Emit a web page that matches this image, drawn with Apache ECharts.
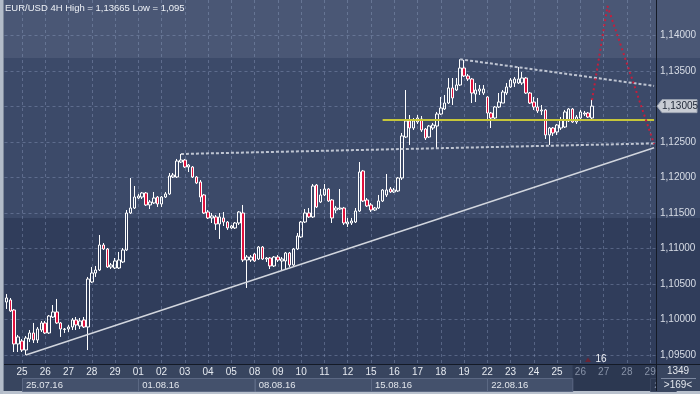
<!DOCTYPE html>
<html>
<head>
<meta charset="utf-8">
<script src="https://cdn.jsdelivr.net/npm/echarts@6.0.0/dist/echarts.min.js"></script>
<style>
html,body{margin:0;padding:0;}
#c{width:700px;height:394px;background:linear-gradient(to bottom,#4a5775 0px,#4a5775 58px,#3c4a69 58px,#3c4a69 218px,#303d5b 218px,#303d5b 364px,#38455f 364px,#38455f 391px,#b9c1cd 391px,#b9c1cd 394px);}
</style>
</head>
<body>
<div id="c"></div>
<script>
// ---------- data ----------
const preDay = '22';
const preDayHours = ['08','12','16','20'];
const hours = ['00','04','08','12','16','20'];
const dayLabels = ['25','26','27','28','29','01','02','03','04','05','08','09','10','11','12','15','16','17','18','19','22','23','24','25','26','27','28','29'];
const weekLabels = ['25.07.16','01.08.16','08.08.16','15.08.16','22.08.16','29.08.16'];
const yTicks = [1.095,1.100,1.105,1.110,1.115,1.120,1.125,1.130,1.135,1.140];
const symbolName = 'EUR/USD 4H';
const highValue = 1.13665;
const lowValue = 1.095;
const lastPrice = 1.13005;
const barCountText = '1349';
const spreadText = '>169<';
const timerText = '16';

// [open, close, low, high]
const ohlc = [
[1.10246,1.10303,1.10148,1.10359],[1.10275,1.10120,1.10106,1.10303],[1.10134,1.09655,1.09542,1.10148],[1.09655,1.09754,1.09542,1.09782],
[1.09697,1.09570,1.09542,1.09725],[1.09570,1.09739,1.09500,1.09768],[1.09725,1.09810,1.09683,1.09852],[1.09810,1.09711,1.09669,1.09951],[1.09711,1.09866,1.09669,1.09894],[1.09852,1.09951,1.09824,1.09979],
[1.09951,1.09810,1.09796,1.09979],[1.09810,1.10049,1.09796,1.10063],[1.10035,1.10106,1.10021,1.10204],[1.10106,1.09951,1.09937,1.10289],[1.09951,1.09866,1.09754,1.09965],[1.09859,1.09866,1.09810,1.09880],
[1.09866,1.09894,1.09824,1.09923],[1.09894,1.09993,1.09852,1.10021],[1.09993,1.09923,1.09852,1.10035],[1.09908,1.09979,1.09866,1.10021],[1.09993,1.09894,1.09880,1.10035],[1.09894,1.10570,1.09570,1.10599],
[1.10528,1.10655,1.10514,1.10739],[1.10655,1.10697,1.10599,1.10754],[1.10697,1.11049,1.10683,1.11190],[1.11049,1.10993,1.10979,1.11077],[1.10993,1.10739,1.10725,1.11007],[1.10739,1.10768,1.10711,1.10796],
[1.10725,1.10824,1.10711,1.10866],[1.10725,1.10838,1.10711,1.10951],[1.10810,1.10979,1.10796,1.11007],[1.10979,1.11500,1.10965,1.11542],[1.11500,1.11570,1.11486,1.11993],[1.11570,1.11725,1.11556,1.11880],
[1.11711,1.11739,1.11697,1.11768],[1.11725,1.11782,1.11697,1.11796],[1.11782,1.11613,1.11599,1.11796],[1.11613,1.11655,1.11556,1.11683],[1.11641,1.11711,1.11627,1.11796],[1.11725,1.11627,1.11585,1.11739],
[1.11627,1.11725,1.11585,1.11739],[1.11725,1.11768,1.11711,1.11796],[1.11768,1.12021,1.11754,1.12063],[1.12007,1.12035,1.11993,1.12063],[1.12007,1.12232,1.11993,1.12261],[1.12218,1.12246,1.12204,1.12331],
[1.12246,1.12148,1.12134,1.12261],[1.12148,1.12176,1.12077,1.12190],[1.12148,1.12007,1.11993,1.12162],[1.12007,1.11923,1.11908,1.12021],[1.11937,1.11725,1.11655,1.11965],[1.11754,1.11500,1.11486,1.11768],
[1.11514,1.11430,1.11415,1.11542],[1.11430,1.11458,1.11359,1.11500],[1.11444,1.11345,1.11261,1.11472],[1.11345,1.11444,1.11134,1.11500],[1.11430,1.11373,1.11317,1.11514],[1.11373,1.11289,1.11261,1.11387],
[1.11289,1.11317,1.11275,1.11331],[1.11289,1.11359,1.11275,1.11373],[1.11359,1.11514,1.11331,1.11528],[1.11500,1.10838,1.10810,1.11613],[1.10838,1.10880,1.10444,1.10908],[1.10838,1.10880,1.10810,1.10908],
[1.10923,1.10824,1.10810,1.10937],[1.10852,1.11021,1.10838,1.11035],[1.11021,1.10852,1.10838,1.11035],[1.10852,1.10866,1.10810,1.10880],[1.10866,1.10754,1.10711,1.10880],[1.10754,1.10880,1.10739,1.10894],
[1.10880,1.10838,1.10810,1.10908],[1.10824,1.10852,1.10683,1.10880],[1.10824,1.10937,1.10711,1.10951],[1.10937,1.10768,1.10739,1.10951],[1.10768,1.10993,1.10754,1.11007],[1.10993,1.11176,1.10979,1.11218],
[1.11162,1.11373,1.11148,1.11387],[1.11373,1.11500,1.11359,1.11556],[1.11500,1.11444,1.11430,1.11570],[1.11444,1.11880,1.11430,1.11908],[1.11894,1.11585,1.11570,1.11908],[1.11655,1.11754,1.11641,1.11838],
[1.11754,1.11838,1.11739,1.11908],[1.11838,1.11669,1.11655,1.11852],[1.11683,1.11430,1.11359,1.11697],[1.11542,1.11570,1.11500,1.11599],[1.11556,1.11570,1.11542,1.11838],[1.11570,1.11359,1.11331,1.11585],
[1.11345,1.11373,1.11303,1.11430],[1.11359,1.11387,1.11331,1.11430],[1.11373,1.11528,1.11359,1.11570],[1.11528,1.12077,1.11514,1.12218],[1.12092,1.11669,1.11655,1.12106],[1.11683,1.11599,1.11585,1.11711],
[1.11613,1.11542,1.11514,1.11641],[1.11542,1.11570,1.11528,1.11585],[1.11570,1.11669,1.11556,1.11754],[1.11669,1.11824,1.11655,1.11838],[1.11754,1.11824,1.11725,1.12049],[1.11838,1.11796,1.11782,1.11866],
[1.11796,1.11824,1.11782,1.11852],[1.11810,1.11993,1.11796,1.12007],[1.11993,1.12585,1.11965,1.12627],[1.12570,1.12796,1.12556,1.13232],[1.12796,1.12697,1.12458,1.12880],[1.12697,1.12796,1.12669,1.12838],
[1.12782,1.12838,1.12754,1.12880],[1.12824,1.12669,1.12641,1.12866],[1.12683,1.12556,1.12528,1.12697],[1.12570,1.12725,1.12556,1.12739],[1.12697,1.12739,1.12669,1.12768],[1.12725,1.12894,1.12415,1.12923],
[1.12894,1.12979,1.12880,1.13134],[1.12965,1.13049,1.12951,1.13162],[1.13049,1.13261,1.13035,1.13401],[1.13261,1.13120,1.13021,1.13401],[1.13232,1.13303,1.13218,1.13401],[1.13303,1.13542,1.13289,1.13665],
[1.13542,1.13430,1.13415,1.13655],[1.13430,1.13387,1.13359,1.13458],[1.13387,1.13190,1.13049,1.13401],[1.13176,1.13232,1.13063,1.13331],[1.13218,1.13246,1.13162,1.13303],[1.13190,1.13246,1.13162,1.13303],
[1.13134,1.12908,1.12810,1.13148],[1.12908,1.12838,1.12697,1.12923],[1.12838,1.12993,1.12824,1.13007],[1.12993,1.13063,1.12979,1.13190],[1.13049,1.13204,1.13049,1.13232],[1.13190,1.13275,1.13162,1.13331],
[1.13275,1.13373,1.13261,1.13401],[1.13331,1.13387,1.13275,1.13415],[1.13331,1.13387,1.13317,1.13556],[1.13331,1.13401,1.13303,1.13486],[1.13401,1.13190,1.13176,1.13415],[1.13190,1.13049,1.13035,1.13204],
[1.13063,1.12993,1.12951,1.13134],[1.12993,1.12937,1.12908,1.13120],[1.12937,1.12951,1.12880,1.13021],[1.12951,1.12599,1.12542,1.12965],[1.12599,1.12697,1.12458,1.12711],[1.12697,1.12627,1.12585,1.12711],
[1.12641,1.12739,1.12599,1.12754],[1.12697,1.12810,1.12669,1.12852],[1.12711,1.12923,1.12697,1.12951],[1.12796,1.12965,1.12782,1.12979],[1.12965,1.12782,1.12768,1.12979],[1.12782,1.12852,1.12754,1.12880],
[1.12838,1.12923,1.12810,1.12951],[1.12894,1.12908,1.12866,1.12937],[1.12908,1.12852,1.12838,1.12923],[1.12838,1.13005,1.12824,1.13106]
];

// drawn lines: [category index, price]
const supportLine = [[5, 1.09500], [167, 1.12420]];
const lowerBound = [[45, 1.12331], [167, 1.12480]];
const upperBound = [[117, 1.13665], [167, 1.13290]];
const levelLine = [[97, 1.12810], [167, 1.12810]];
const projection = [[151, 1.13090], [155, 1.14415], [167, 1.12470]];

// ---------- build ----------
const FONT = '"Liberation Sans", Arial, sans-serif';
const slotCount = 168;
const cats = [];
preDayHours.forEach(h => cats.push(preDay + ' ' + h));
dayLabels.forEach(d => hours.forEach(h => cats.push(d + ' ' + h)));
cats.length = slotCount;
const isDayStart = i => cats[i] !== undefined && cats[i].slice(-2) === '00';
const dimFrom = preDayHours.length + 24 * hours.length;   // labels from 26.08 are dim
const fmt = v => v.toFixed(5).replace('.', ',');
const yMin = 1.09373, yMax = 1.14500;

const chart = echarts.init(document.getElementById('c'), null, {renderer: 'canvas', width: 700, height: 394});
const gridColor = 'rgba(150,166,200,0.38)';
chart.setOption({
  animation: false,
  backgroundColor: 'transparent',
  textStyle: {fontFamily: FONT},
  grid: {left: 4.5, right: 44, top: 0, bottom: 30, containLabel: false},
  xAxis: {
    type: 'category', data: cats, boundaryGap: true,
    axisLine: {show: false}, axisTick: {show: false},
    axisLabel: {
      interval: (i) => isDayStart(i),
      formatter: (v, i) => { const d = v.split(' ')[0]; return i >= dimFrom ? '{d|' + d + '}' : d; },
      color: '#e6eaf0', fontSize: 10, margin: 3, fontFamily: FONT,
      rich: {d: {color: '#8893a8', fontSize: 10, fontFamily: FONT}}
    },
    splitLine: {show: true, alignWithLabel: true, interval: (i) => isDayStart(i),
      lineStyle: {color: gridColor, type: [3, 3], width: 1}}
  },
  yAxis: {
    type: 'value', position: 'right', min: yMin, max: yMax, scale: true,
    axisLine: {show: false},
    axisTick: {show: false, customValues: yTicks},
    axisLabel: {customValues: yTicks.filter(v => v !== 1.13), formatter: fmt,
      color: '#d8dde6', fontSize: 10, margin: 4, fontFamily: FONT},
    splitLine: {show: true, lineStyle: {color: gridColor, type: [3, 3], width: 1}}
  },
  series: [
    {type: 'candlestick', data: ohlc, barWidth: 3, z: 2,
     itemStyle: {color: 'rgba(0,0,0,0)', color0: '#e0103c', borderColor: '#ffffff', borderColor0: '#ffffff', borderWidth: 1}},
    {type: 'line', data: supportLine, symbol: 'none', silent: true, z: 3,
     lineStyle: {color: '#d2d6de', width: 1.5}},
    {type: 'line', data: lowerBound, symbol: 'none', silent: true, z: 3,
     lineStyle: {color: '#bfc5d2', width: 2, type: [3, 2]}},
    {type: 'line', data: upperBound, symbol: 'none', silent: true, z: 3,
     lineStyle: {color: '#bfc5d2', width: 2, type: [3, 2]}},
    {type: 'line', data: levelLine, symbol: 'none', silent: true, z: 3,
     lineStyle: {color: '#c6c63a', width: 2}},
    {type: 'line', data: projection, symbol: 'none', silent: true, z: 4, clip: false,
     lineStyle: {color: '#c41e3c', width: 2, type: [2, 3]}}
  ]
});

// ---------- decorations ----------
const P = (i, v) => chart.convertToPixel({gridIndex: 0}, [i, v]);
const plotRight = 656, axisY = 364;
const g = [];
// week boxes
const weekStart = weekLabels.map((w, k) => k < 5 ? preDayHours.length + 30 * k : preDayHours.length + 27 * hours.length);
const futureX = P(146, yTicks[0])[0];
g.push({type: 'rect', z: -1, shape: {x: futureX, y: 365, width: plotRight - futureX, height: 26}, style: {fill: '#2c3851'}});
weekLabels.forEach((w, k) => {
  const x0 = P(weekStart[k], yTicks[0])[0];
  const x1 = k < 4 ? P(weekStart[k + 1], yTicks[0])[0] : (k === 4 ? futureX : plotRight + 20);
  g.push({type: 'rect', z: -1, shape: {x: Math.round(x0) + 0.5, y: 378.5, width: x1 - x0, height: 13},
    style: {fill: k === 5 ? '#2c3851' : '#44516c', stroke: k === 5 ? '#3a4660' : '#5b6883', lineWidth: 1}});
  g.push({type: 'text', z: 3, x: x0 + 4, y: 385, style: {text: w, fill: k === 5 ? '#8893a8' : '#e2e6ec', font: '9.5px ' + FONT, textVerticalAlign: 'middle'}});
});
// right panel bottom box
g.push({type: 'rect', z: 5, shape: {x: plotRight + 0.5, y: 364.5, width: 44, height: 26.5}, style: {fill: '#38455f'}});
g.push({type: 'text', z: 6, x: 678, y: 371, style: {text: barCountText, fill: '#e2e6ec', font: '10px ' + FONT, textAlign: 'center', textVerticalAlign: 'middle'}});
g.push({type: 'line', z: 6, shape: {x1: 661, y1: 378.5, x2: 696, y2: 378.5}, style: {stroke: '#7d89a0', lineWidth: 1}});
g.push({type: 'text', z: 6, x: 678, y: 385, style: {text: spreadText, fill: '#e2e6ec', font: '10px ' + FONT, textAlign: 'center', textVerticalAlign: 'middle'}});
// frame lines
g.push({type: 'line', z: 20, shape: {x1: 0, y1: axisY + 0.5, x2: 700, y2: axisY + 0.5}, style: {stroke: '#141a26', lineWidth: 1}});
g.push({type: 'line', z: 20, shape: {x1: plotRight + 0.5, y1: 0, x2: plotRight + 0.5, y2: 391}, style: {stroke: '#141a26', lineWidth: 1}});
g.push({type: 'rect', z: 20, shape: {x: 0, y: 0, width: 3, height: 394}, style: {fill: '#b3bcc9'}});
g.push({type: 'line', z: 20, shape: {x1: 3.5, y1: 0, x2: 3.5, y2: 391}, style: {stroke: '#7f8a9c', lineWidth: 1}});
// last price tag
const ty = P(0, lastPrice)[1];
g.push({type: 'polygon', z: 21, shape: {points: [[657, ty], [662, ty - 6.5], [697, ty - 6.5], [697, ty + 6.5], [662, ty + 6.5]]},
  style: {fill: '#c8ccd4', stroke: '#9ea6b4', lineWidth: 1}});
g.push({type: 'text', z: 22, x: 680, y: ty, style: {text: fmt(lastPrice), fill: '#1c2434', font: '10px ' + FONT, textAlign: 'center', textVerticalAlign: 'middle'}});
// title
g.push({type: 'text', z: 22, x: 5, y: 8, style: {text: symbolName + ' High = ' + fmt(highValue) + ' Low = ' + String(lowValue).replace('.', ','),
  fill: '#eef1f6', font: '9.5px ' + FONT, textVerticalAlign: 'middle'}});
// timer marker
g.push({type: 'polygon', z: 22, shape: {points: [[585, 362], [588, 357.5], [591, 362]]}, style: {fill: '#6a2434'}});
g.push({type: 'text', z: 22, x: 601, y: 359.5, style: {text: timerText, fill: '#f2f4f8', font: '10px ' + FONT, textAlign: 'center', textVerticalAlign: 'middle'}});
chart.setOption({graphic: {elements: g}});
</script>
</body>
</html>
